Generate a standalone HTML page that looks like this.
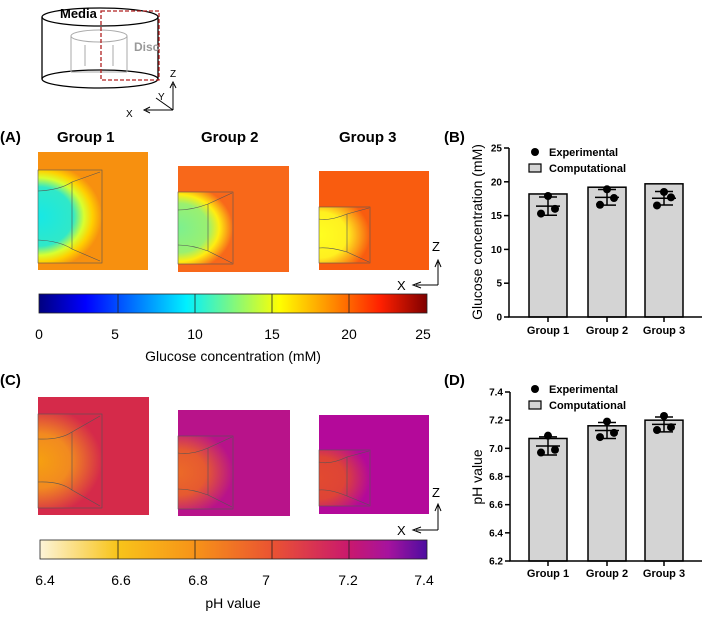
<!DOCTYPE html>
<html><head><meta charset="utf-8"><style>
body{margin:0;background:#fff}
svg{display:block;font-family:"Liberation Sans",Arial,sans-serif}
</style></head><body>
<svg id="fig" width="709" height="618" viewBox="0 0 709 618">
<defs>
<linearGradient id="jet" x1="0" x2="1"><stop offset="0" stop-color="#00007f"/><stop offset="0.12" stop-color="#0000ff"/><stop offset="0.38" stop-color="#00f0ff"/><stop offset="0.62" stop-color="#ffff00"/><stop offset="0.88" stop-color="#ff2000"/><stop offset="1" stop-color="#7f0000"/></linearGradient>
<linearGradient id="plasma" x1="0" x2="1"><stop offset="0" stop-color="#fdf4d8"/><stop offset="0.2" stop-color="#f8c41a"/><stop offset="0.4" stop-color="#f79318"/><stop offset="0.6" stop-color="#ea5332"/><stop offset="0.8" stop-color="#c9186e"/><stop offset="0.9" stop-color="#a6139e"/><stop offset="1" stop-color="#4d0da0"/></linearGradient>
<radialGradient id="g1" cx="0" cy="0.5" r="1" fx="0" fy="0.5" gradientTransform="translate(0,0.5) scale(1,0.58) translate(0,-0.5)"><stop offset="0" stop-color="#16e8e6"/><stop offset="0.55" stop-color="#30e8c8"/><stop offset="0.72" stop-color="#d8ff30"/><stop offset="0.85" stop-color="#ffd000"/><stop offset="1" stop-color="#f7900f"/></radialGradient>
<radialGradient id="g2" cx="0" cy="0.5" r="1" fx="0" fy="0.5" gradientTransform="translate(0,0.5) scale(1,0.62) translate(0,-0.5)"><stop offset="0" stop-color="#7cf090"/><stop offset="0.55" stop-color="#9af070"/><stop offset="0.75" stop-color="#ffee10"/><stop offset="1" stop-color="#f8681a"/></radialGradient>
<radialGradient id="g3" cx="0" cy="0.5" r="1" fx="0" fy="0.5" gradientTransform="translate(0,0.5) scale(1,0.75) translate(0,-0.5)"><stop offset="0" stop-color="#ffff20"/><stop offset="0.55" stop-color="#fff020"/><stop offset="1" stop-color="#f95c0f"/></radialGradient>
<radialGradient id="p1" cx="0" cy="0.5" r="1" fx="0" fy="0.5" gradientTransform="translate(0,0.5) scale(1,0.58) translate(0,-0.5)"><stop offset="0" stop-color="#f6a010"/><stop offset="0.5" stop-color="#f28a20"/><stop offset="1" stop-color="#d52a4a"/></radialGradient>
<radialGradient id="p2" cx="0" cy="0.5" r="1" fx="0" fy="0.5" gradientTransform="translate(0,0.5) scale(1,0.62) translate(0,-0.5)"><stop offset="0" stop-color="#ec6a28"/><stop offset="0.5" stop-color="#e65a30"/><stop offset="1" stop-color="#b8138a"/></radialGradient>
<radialGradient id="p3" cx="0" cy="0.5" r="1" fx="0" fy="0.5" gradientTransform="translate(0,0.5) scale(1,0.75) translate(0,-0.5)"><stop offset="0" stop-color="#e24a30"/><stop offset="0.5" stop-color="#de4436"/><stop offset="1" stop-color="#b4099a"/></radialGradient>
</defs>

<!-- schematic -->
<g fill="none" stroke="#000" stroke-width="1.3">
<ellipse cx="100" cy="17" rx="58" ry="9"/>
<ellipse cx="100" cy="79" rx="58" ry="9"/>
<line x1="42" y1="17" x2="42" y2="79"/><line x1="158" y1="17" x2="158" y2="79"/>
<g stroke="#aaa" stroke-width="1"><ellipse cx="99" cy="36" rx="28" ry="6"/><line x1="71" y1="36" x2="71" y2="72"/><line x1="127" y1="36" x2="127" y2="72"/><line x1="71" y1="72" x2="127" y2="72"/><line x1="85" y1="45" x2="85" y2="66"/><line x1="113" y1="45" x2="113" y2="66"/></g>
<rect x="101" y="11" width="58" height="69" stroke="#b02020" stroke-dasharray="4,2"/>
<path d="M173 110 V84 M170 88 L173 82 L176 88 M173 110 H146 M150 107 L144 110 L150 113 M173 110 L156 98" stroke-width="1"/>
</g>
<text x="60" y="18" font-size="13" font-weight="bold">Media</text>
<text x="134" y="51" font-size="12" font-weight="bold" fill="#999">Disc</text>
<text x="170" y="77" font-size="10">Z</text>
<text x="158" y="100" font-size="10">Y</text>
<text x="126" y="117" font-size="10">X</text>

<!-- panel A -->
<text x="0" y="142" font-size="15" font-weight="bold">(A)</text>
<text x="57" y="142" font-size="15" font-weight="bold">Group 1</text>
<text x="201" y="142" font-size="15" font-weight="bold">Group 2</text>
<text x="339" y="142" font-size="15" font-weight="bold">Group 3</text>
<g stroke="#555" stroke-width="0.6">
<rect x="38" y="152" width="110" height="118" fill="#f7900f" stroke="none"/>
<rect x="38" y="170" width="64" height="93" fill="url(#g1)"/>
<path d="M38 191 Q60 190 72 182 L100 172 M38 240 Q60 241 72 249 L100 261 M72 182 V249" fill="none"/>
<rect x="178" y="166" width="111" height="106" fill="#f8681a" stroke="none"/>
<rect x="178" y="192" width="55" height="72" fill="url(#g2)"/>
<path d="M178 210 Q192 210 208 204 L232 193 M178 245 Q192 245 208 251 L232 263 M208 204 V251" fill="none"/>
<rect x="319" y="171" width="110" height="99" fill="#f95c0f" stroke="none"/>
<rect x="319" y="207" width="51" height="56" fill="url(#g3)"/>
<path d="M319 219 Q330 221 347 214 L369 208 M319 248 Q330 247 347 252 L369 262 M347 214 V252" fill="none"/>
</g>
<g stroke="#000" fill="none" stroke-width="1"><path d="M438 285 V262 M435 267 L438 260 L441 267 M438 285 H416 M421 282 L413 285 L421 288"/></g>
<text x="432" y="251" font-size="13">Z</text>
<text x="397" y="290" font-size="13">X</text>
<g>
<rect x="39" y="294" width="388" height="19" fill="url(#jet)" stroke="#222" stroke-width="0.8"/>
<path d="M118 294V313M195 294V313M272 294V313M349 294V313" stroke="#222" stroke-width="0.8"/>
</g>
<g font-size="14" text-anchor="middle">
<text x="39" y="339">0</text><text x="115" y="339">5</text><text x="195" y="339">10</text><text x="272" y="339">15</text><text x="349" y="339">20</text><text x="423" y="339">25</text>
</g>
<text x="233" y="361" font-size="14" text-anchor="middle">Glucose concentration (mM)</text>

<!-- panel C -->
<text x="0" y="385" font-size="15" font-weight="bold">(C)</text>
<g stroke="#555" stroke-width="0.6">
<rect x="38" y="397" width="111" height="118" fill="#d52a4a" stroke="none"/>
<rect x="38" y="414" width="64" height="94" fill="url(#p1)"/>
<path d="M38 439 Q60 440 72 432 L100 416 M38 482 Q60 481 72 490 L100 506 M72 432 V490" fill="none"/>
<rect x="178" y="410" width="112" height="106" fill="#b8138a" stroke="none"/>
<rect x="178" y="436" width="55" height="73" fill="url(#p2)"/>
<path d="M178 453 Q192 455 208 448 L232 437 M178 489 Q192 489 208 495 L232 507 M208 448 V495" fill="none"/>
<rect x="319" y="415" width="110" height="99" fill="#b4099a" stroke="none"/>
<rect x="319" y="450" width="51" height="56" fill="url(#p3)"/>
<path d="M319 462 Q330 465 347 457 L369 451 M319 490 Q330 489 347 496 L369 505 M347 457 V496" fill="none"/>
</g>
<g stroke="#000" fill="none" stroke-width="1"><path d="M438 530 V505 M435 511 L438 504 L441 511 M438 530 H416 M421 527 L413 530 L421 533"/></g>
<text x="432" y="497" font-size="13">Z</text>
<text x="397" y="535" font-size="13">X</text>
<g>
<rect x="40" y="540" width="387" height="19" fill="url(#plasma)" stroke="#222" stroke-width="0.8"/>
<path d="M118 540V559M195 540V559M272 540V559M349 540V559" stroke="#222" stroke-width="0.8"/>
</g>
<g font-size="14" text-anchor="middle">
<text x="45" y="585">6.4</text><text x="121" y="585">6.6</text><text x="198" y="585">6.8</text><text x="266" y="585">7</text><text x="348" y="585">7.2</text><text x="424" y="585">7.4</text>
</g>
<text x="233" y="608" font-size="14" text-anchor="middle">pH value</text>

<text x="444" y="142" font-size="15" font-weight="bold">(B)</text>
<text x="444" y="385" font-size="15" font-weight="bold">(D)</text>
<g id="chartB"></g>
<g id="chartD"></g>
</svg>
<script>
const groups = ["Group 1","Group 2","Group 3"];
const glucoseComputational = [18.2, 19.2, 19.7];
const glucoseExperimental = [[17.9, 15.3, 16.0],[18.9, 16.6, 17.6],[18.5, 16.5, 17.7]];
const glucoseTicks = [0,5,10,15,20,25];
const phComputational = [7.07, 7.16, 7.20];
const phExperimental = [[7.09, 6.97, 6.99],[7.19, 7.08, 7.11],[7.23, 7.13, 7.15]];
const phTicks = [6.2,6.4,6.6,6.8,7.0,7.2,7.4];

const NS="http://www.w3.org/2000/svg";
function mk(parent,tag,attrs,text){const e=document.createElementNS(NS,tag);for(const k in attrs)e.setAttribute(k,attrs[k]);if(text!==undefined)e.textContent=text;parent.appendChild(e);return e;}

function drawBar(gid, cfg){
  const g=document.getElementById(gid);
  const y=v=>cfg.y0+(v-cfg.min)/(cfg.max-cfg.min)*(cfg.y1-cfg.y0);
  const ax=cfg.ax;
  const barL=[529,588,645], bw=38;
  cfg.comp.forEach((v,i)=>{
    const r=mk(g,'rect',{x:barL[i],y:y(v),width:bw,height:y(cfg.min)-y(v),fill:'#d4d4d4',stroke:'#000','stroke-width':1.5});
    
    
    const cx=barL[i]+bw/2;
    const pts=cfg.exp[i];
    const m=pts.reduce((a,b)=>a+b,0)/pts.length;
    const sd=Math.sqrt(pts.reduce((a,b)=>a+(b-m)*(b-m),0)/(pts.length-1));
    const eb=mk(g,'path',{d:`M${cx} ${y(m+sd)}V${y(m-sd)}M${cx-9} ${y(m+sd)}H${cx+9}M${cx-12} ${y(m)}H${cx+12}M${cx-9} ${y(m-sd)}H${cx+9}`,stroke:'#000','stroke-width':1.5,fill:'none'});
    
    
    const off=[0,-7,7];
    pts.forEach((p,j)=>{
      const c=mk(g,'circle',{cx:cx+off[j],cy:y(p),r:4,fill:'#000'});
      
      
    });
    const t=mk(g,'text',{x:cx,y:cfg.labelY,'font-size':11,'font-weight':'bold','text-anchor':'middle'},groups[i]);
    
    
  });
  const axl=mk(g,'path',{d:`M${ax} ${cfg.y1}V${cfg.y0}H702`,stroke:'#000','stroke-width':1.5,fill:'none'});
  
  
  barL.forEach(b=>mk(g,'line',{x1:b+bw/2,x2:b+bw/2,y1:cfg.y0,y2:cfg.y0+5,stroke:'#000','stroke-width':1.5}));
  cfg.ticks.forEach(tv=>{
    mk(g,'line',{x1:ax-5,x2:ax,y1:y(tv),y2:y(tv),stroke:'#000','stroke-width':1.5});
    const t=mk(g,'text',{x:ax-7,y:y(tv)+3.5,'font-size':10,'font-weight':'bold','text-anchor':'end'},cfg.fmt(tv));
    
    
  });
  const yt=mk(g,'text',{x:0,y:0,'font-size':14,'text-anchor':'middle',transform:`translate(${cfg.titleX},${cfg.titleY}) rotate(-90)`},cfg.title);
  
  
  const lc=mk(g,'circle',{cx:535,cy:cfg.legY,r:4,fill:'#000'});
  
  
  const l1=mk(g,'text',{x:549,y:cfg.legY+4,'font-size':11,'font-weight':'bold'},'Experimental');
  
  
  const lr=mk(g,'rect',{x:529,y:cfg.legY+12,width:12,height:8,fill:'#d4d4d4',stroke:'#000','stroke-width':1.2});
  
  
  const l2=mk(g,'text',{x:549,y:cfg.legY+20,'font-size':11,'font-weight':'bold'},'Computational');
  
  
}
drawBar('chartB',{y0:317,y1:148,min:0,max:25,ax:509,comp:glucoseComputational,exp:glucoseExperimental,ticks:glucoseTicks,fmt:v=>String(v),labelY:334,title:'Glucose concentration (mM)',titleX:482,titleY:232,legY:152});
drawBar('chartD',{y0:561,y1:392,min:6.2,max:7.4,ax:510,comp:phComputational,exp:phExperimental,ticks:phTicks,fmt:v=>v.toFixed(1),labelY:577,title:'pH value',titleX:482,titleY:477,legY:389});
</script>
</body></html>
